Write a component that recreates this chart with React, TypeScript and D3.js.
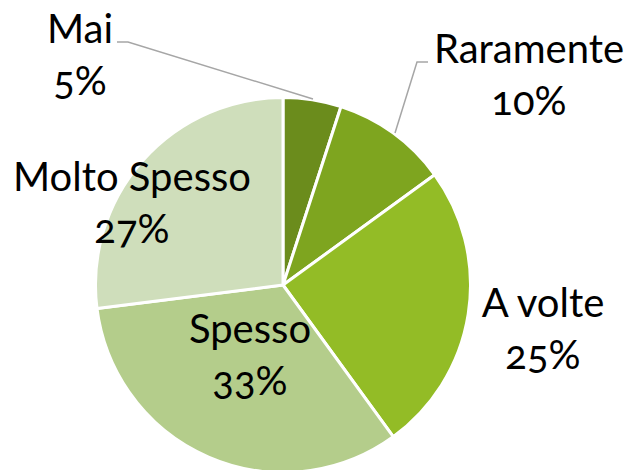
import React from "react";
import * as d3 from "d3";

const categories = ["Mai", "Raramente", "A volte", "Spesso", "Molto Spesso"];
const values = [5, 10, 25, 33, 27];
const labels = ["5%", "10%", "25%", "33%", "27%"];
const colors = ["#6b8c1c", "#7ea51f", "#93bc26", "#b4cd8b", "#cfdebb"];
// label anchor positions (center of the two-line label block, first baseline)
const labelPos: [number, number][] = [
  [80, 43],
  [529, 63],
  [543, 317],
  [250, 343],
  [132, 191],
];

export default function App() {
  const W = 633, H = 470;
  const cx = 283, cy = 285, r = 187.5;
  const pie = d3.pie<number>().sort(null).value((d) => d)(values);
  const arc = d3.arc<d3.PieArcDatum<number>>().innerRadius(0).outerRadius(r);
  const font = "Lato, 'Open Sans', sans-serif";
  return (
    <svg width={W} height={H} style={{ position: "absolute", left: 0, top: 0 }}>
      <rect width={W} height={H} fill="#fff" />
      <g transform={`translate(${cx},${cy})`}>
        {pie.map((p, i) => (
          <path key={i} d={arc(p) || ""} fill={colors[i]} stroke="#fff" strokeWidth={3} strokeLinejoin="round" />
        ))}
      </g>
      {/* leader lines */}
      <polyline points="117,42 128,42 313,99" fill="none" stroke="#a6a6a6" strokeWidth={1.5} />
      <polyline points="428,62 417,62 395,133" fill="none" stroke="#a6a6a6" strokeWidth={1.5} />
      {categories.map((c, i) => (
        <text
          key={c}
          x={labelPos[i][0]}
          y={labelPos[i][1]}
          textAnchor="middle"
          fontFamily={font}
          fontSize={40}
          fill="#000"
          style={{ fontVariantNumeric: "oldstyle-nums" }}
        >
          <tspan x={labelPos[i][0]}>{c}</tspan>
          <tspan x={labelPos[i][0]} dy={52}>{labels[i]}</tspan>
        </text>
      ))}
    </svg>
  );
}
